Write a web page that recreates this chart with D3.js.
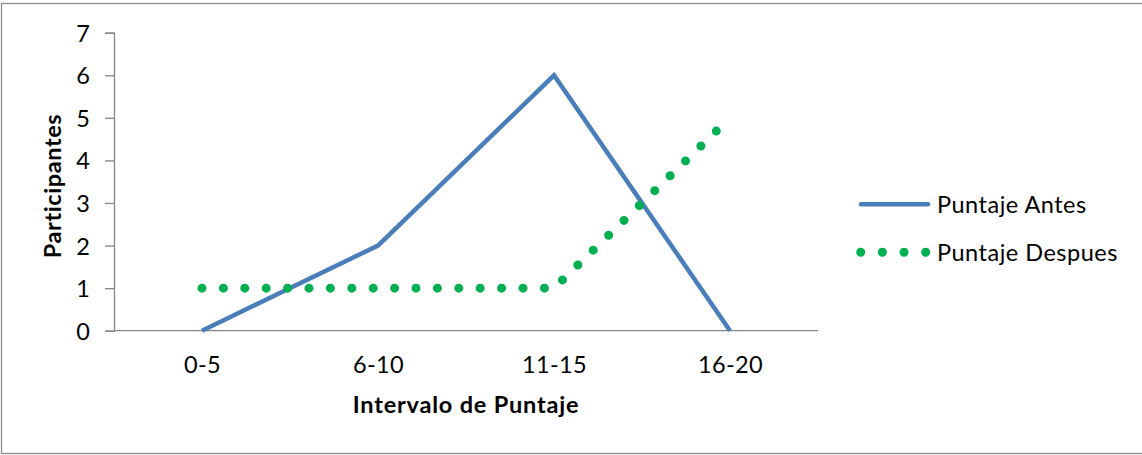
<!DOCTYPE html>
<html>
<head>
<meta charset="utf-8">
<script src="https://cdn.jsdelivr.net/npm/d3@7"></script>
<style>
  html, body { margin: 0; padding: 0; background: #fff; }
  svg { display: block; }
  text { font-family: Lato, "Open Sans", sans-serif; fill: #000; }
</style>
</head>
<body>
<svg id="chart" width="1142" height="455"></svg>
<script>
// Score intervals and participant counts before / after
const categories = ["0-5", "6-10", "11-15", "16-20"];
const antes = [0, 2, 6, 0];
const despues = [1, 1, 1, 5];
const yTicks = [0, 1, 2, 3, 4, 5, 6, 7];
const seriesNames = ["Puntaje Antes", "Puntaje Despues"];

const svg = d3.select("#chart");
const plot = { left: 114, right: 818, top: 32.7, bottom: 330.7 };
const axisColor = "#868686";
const blue = "#4A7EBB";
const green = "#00B050";
const fs = 23.5;

// outer frame
svg.append("rect")
  .attr("x", 1.5).attr("y", 3.5)
  .attr("width", 1150).attr("height", 450)
  .attr("fill", "none").attr("stroke", axisColor).attr("stroke-width", 1.2);

const x = d3.scalePoint().domain(categories).range([plot.left, plot.right]).padding(0.5);
const y = d3.scaleLinear().domain([0, 7]).range([plot.bottom, plot.top]);

// y axis
const yAxis = svg.append("g")
  .attr("transform", `translate(${plot.left},0)`)
  .call(d3.axisLeft(y).tickValues(yTicks).tickSize(9).tickPadding(15).tickFormat(d3.format("d")));
yAxis.select(".domain").attr("stroke", axisColor).attr("stroke-width", 1.3);
yAxis.selectAll(".tick line").attr("stroke", axisColor).attr("stroke-width", 1.3);
yAxis.selectAll(".tick text")
  .attr("font-family", "Lato, sans-serif").attr("font-size", fs).attr("fill", "#000")
  .attr("dy", "0.36em");

// x axis
const xAxis = svg.append("g")
  .attr("transform", `translate(0,${plot.bottom})`)
  .call(d3.axisBottom(x).tickSize(0).tickPadding(26).tickSizeOuter(0));
xAxis.select(".domain").attr("stroke", axisColor).attr("stroke-width", 1.3)
  .attr("d", `M${plot.left},0H${plot.right}`);
xAxis.selectAll(".tick text")
  .attr("font-family", "Lato, sans-serif").attr("font-size", fs).attr("fill", "#000")
  .attr("letter-spacing", 0.4);

// axis titles
svg.append("text")
  .attr("x", (plot.left + plot.right) / 2).attr("y", 413)
  .attr("text-anchor", "middle").attr("font-size", fs).attr("font-weight", "bold")
  .attr("letter-spacing", 0.8)
  .text("Intervalo de Puntaje");

svg.append("text")
  .attr("transform", "translate(61,186) rotate(-90)")
  .attr("text-anchor", "middle").attr("font-size", fs).attr("font-weight", "bold")
  .attr("letter-spacing", 0.6)
  .text("Participantes");

// series lines
const line = d3.line().x((d, i) => x(categories[i])).y(d => y(d));

svg.append("path")
  .datum(antes)
  .attr("d", line)
  .attr("fill", "none").attr("stroke", blue).attr("stroke-width", 4.5)
  .attr("stroke-linejoin", "miter");

svg.append("path")
  .datum(despues)
  .attr("d", line)
  .attr("fill", "none").attr("stroke", green).attr("stroke-width", 9)
  .attr("stroke-linecap", "round").attr("stroke-dasharray", "0 21.4");

// legend
const legend = svg.append("g");
legend.append("line")
  .attr("x1", 861).attr("x2", 928).attr("y1", 204.3).attr("y2", 204.3)
  .attr("stroke", blue).attr("stroke-width", 4.5).attr("stroke-linecap", "round");
legend.append("text").attr("x", 937).attr("y", 212.7).attr("font-size", fs)
  .attr("letter-spacing", 0.5).text(seriesNames[0]);

legend.append("line")
  .attr("x1", 860.7).attr("x2", 926).attr("y1", 252.3).attr("y2", 252.3)
  .attr("stroke", green).attr("stroke-width", 9).attr("stroke-linecap", "round")
  .attr("stroke-dasharray", "0 21.66");
legend.append("text").attr("x", 937).attr("y", 260.7).attr("font-size", fs)
  .attr("letter-spacing", 0.5).text(seriesNames[1]);
</script>
</body>
</html>
